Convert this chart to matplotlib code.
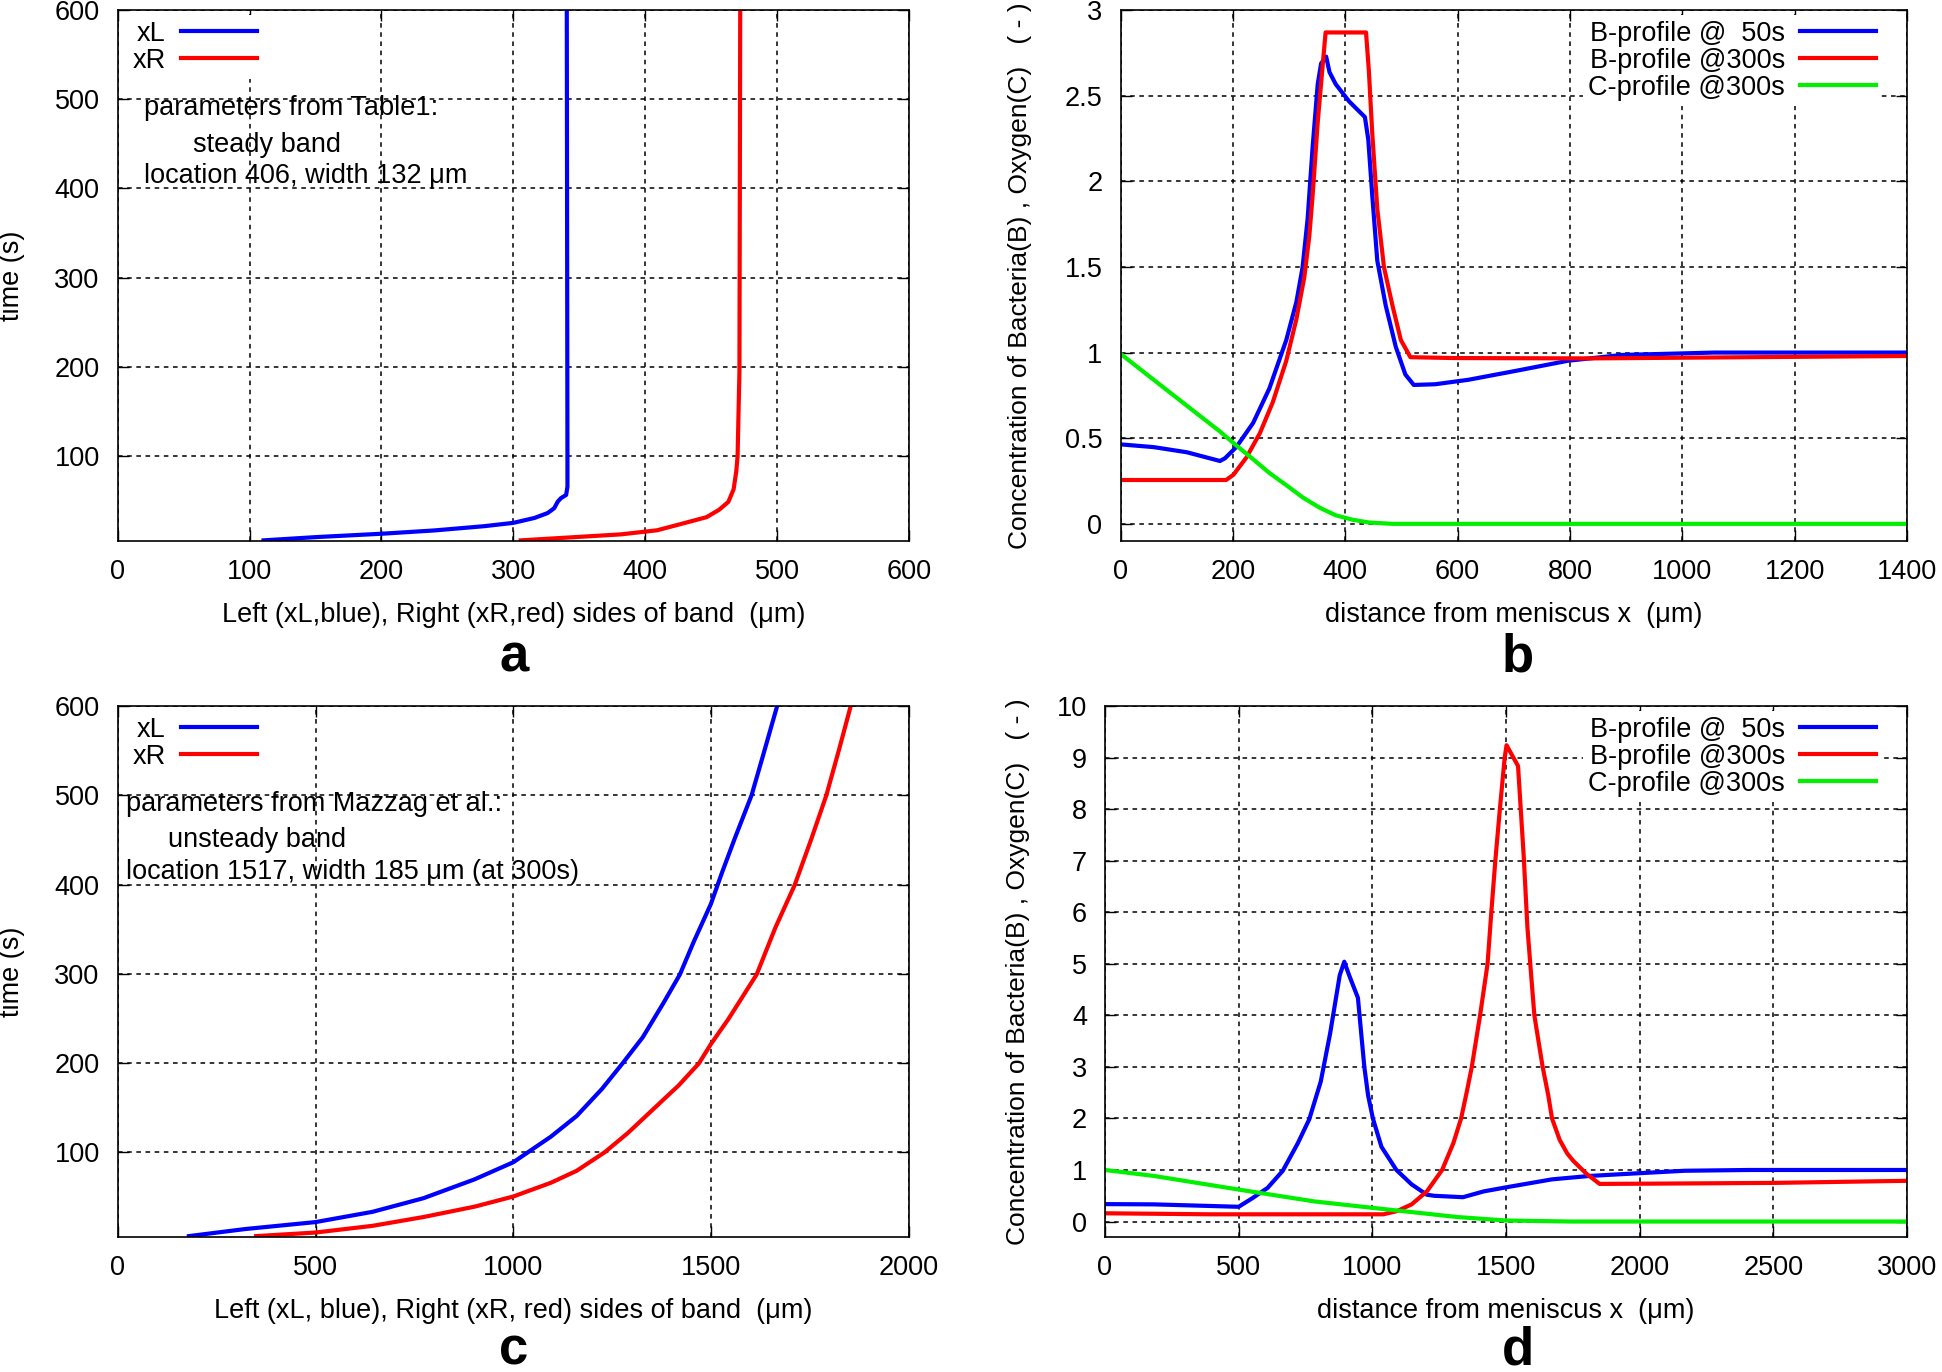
import numpy as np
import matplotlib
matplotlib.use("Agg")
from matplotlib import pyplot as plt
from matplotlib.ticker import FormatStrFormatter

plt.rcParams['font.family'] = ['Liberation Sans', 'DejaVu Sans']
plt.rcParams['font.size'] = 19.5

# panel a: band sides, parameters from Table1
a_xL = [110.6, 151, 200, 240, 278, 300, 316, 326, 331, 333.7, 336, 340, 341, 341, 340.5]
a_tL = [5.7, 9.4, 13.1, 16.8, 21.6, 25.3, 30.8, 36.3, 41.8, 49.2, 52.9, 56.6, 65.8, 100, 600]
a_xR = [305.6, 381.5, 409, 428, 446.5, 456, 463, 467, 469, 470, 471.4, 472]
a_tR = [5.7, 12.4, 17, 24.4, 31.7, 40, 48.8, 63, 83, 100, 195, 600]

# panel b: profiles, Table1 parameters
b_xB50 = [0, 59, 118, 177, 186, 206, 236, 265, 295, 313, 324, 333, 342, 351, 357, 366, 372,
          383, 407, 435, 441, 448, 457, 472, 490, 507, 522, 560, 619, 708, 796, 892, 1057, 1400]
b_B50 = [0.464, 0.448, 0.418, 0.367, 0.383, 0.448, 0.589, 0.791, 1.073, 1.295, 1.497, 1.78,
         2.203, 2.567, 2.688, 2.728, 2.637, 2.567, 2.466, 2.375, 2.244, 1.921, 1.537, 1.275,
         1.033, 0.872, 0.811, 0.815, 0.841, 0.896, 0.952, 0.986, 1.0, 1.0]
b_xB300 = [0, 188, 201, 224, 248, 271, 295, 313, 327, 336, 342, 351, 359, 365, 437, 442, 448,
           457, 469, 484, 499, 516, 594, 838, 1400]
b_B300 = [0.256, 0.256, 0.287, 0.387, 0.529, 0.71, 0.952, 1.195, 1.437, 1.679, 1.921, 2.345,
          2.647, 2.869, 2.869, 2.647, 2.284, 1.84, 1.497, 1.275, 1.073, 0.973, 0.968, 0.966,
          0.98]
b_xC300 = [0, 59, 118, 177, 206, 236, 265, 295, 324, 354, 383, 413, 442, 484, 1400]
b_C300 = [0.993, 0.841, 0.69, 0.539, 0.458, 0.377, 0.297, 0.226, 0.155, 0.095, 0.05, 0.024,
          0.008, 0, 0]

# panel c: band sides, parameters from Mazzag et al.
c_xL = [180, 322, 500, 644, 773, 902, 1000, 1037, 1095, 1160, 1224, 1276, 1327, 1379, 1421,
        1456, 1499, 1527, 1559, 1602, 1630, 1666]
c_tL = [6, 13.9, 21.7, 33.2, 48.5, 69.6, 88.8, 100, 117.5, 140.6, 171, 199.6, 228.8, 267,
        299.3, 336, 378, 413, 451, 500, 543, 599]
c_xR = [350, 500, 644, 773, 902, 1000, 1095, 1160, 1231, 1289, 1353, 1418, 1469, 1499, 1544,
        1615, 1662, 1711, 1753, 1791, 1823, 1852]
c_tR = [6, 10, 17.5, 27.4, 39, 50.4, 65.8, 79.2, 100, 121.4, 148, 175, 199.6, 221, 249.6,
        299.3, 351.5, 399.4, 451, 500, 551, 599]

# panel d: profiles, Mazzag parameters
d_xB50 = [0, 182, 500, 551, 608, 665, 721, 764, 807, 842, 878, 895, 913, 946, 956, 970, 984,
          1002, 1034, 1090, 1147, 1204, 1232, 1339, 1417, 1502, 1672, 1814, 2000, 2169, 2408,
          3000]
d_B50 = [0.338, 0.333, 0.286, 0.452, 0.652, 0.985, 1.517, 1.983, 2.715, 3.646, 4.777, 5.04,
         4.78, 4.34, 3.78, 3.0, 2.45, 2.0, 1.45, 1.0, 0.72, 0.52, 0.499, 0.472, 0.585, 0.665,
         0.818, 0.885, 0.938, 0.985, 1.0, 1.0]
d_xB300 = [0, 395, 1041, 1091, 1147, 1204, 1261, 1303, 1332, 1353, 1372, 1403, 1431, 1445,
           1460, 1477, 1495, 1502, 1545, 1566, 1580, 1594, 1606, 1623, 1637, 1658, 1672, 1701,
           1729, 1751, 1800, 1850, 2049, 2510, 3000]
d_B300 = [0.16, 0.14, 0.14, 0.2, 0.333, 0.585, 1.0, 1.52, 2.0, 2.51, 3.0, 4.0, 5.0, 6.0, 7.0,
          8.0, 9.0, 9.24, 8.836, 7.1, 5.71, 4.78, 4.0, 3.45, 3.0, 2.45, 2.0, 1.58, 1.32, 1.18,
          0.93, 0.73, 0.735, 0.75, 0.79]
d_xC300 = [0, 182, 500, 783, 1000, 1318, 1500, 1743, 3000]
d_C300 = [1.0, 0.885, 0.62, 0.39, 0.266, 0.087, 0.02, 0, 0]

BLUE = '#0000ff'
RED = '#ff0000'
GREEN = '#00f000'
LW = 3.0

fig = plt.figure(figsize=(19.42, 13.72), dpi=100)
axA = fig.add_axes([0.0606, 0.6057, 0.4075, 0.387])
axB = fig.add_axes([0.577, 0.6057, 0.405, 0.387])
axC = fig.add_axes([0.0606, 0.0984, 0.4075, 0.387])
axD = fig.add_axes([0.569, 0.0984, 0.413, 0.387])


def style(ax):
    ax.grid(True, color='black', linestyle=(0, (3, 3)), linewidth=1.1)
    ax.set_axisbelow(True)
    ax.tick_params(direction='in', length=8, width=1, top=True, right=True, pad=13)
    for s in ax.spines.values():
        s.set_linewidth(1.2)


def legend(ax, loc, anchor):
    lg = ax.legend(loc=loc, bbox_to_anchor=anchor, markerfirst=False, frameon=True,
                   fancybox=False, framealpha=1, edgecolor='none', handlelength=2.8,
                   handletextpad=0.55, labelspacing=0.04, borderpad=0.2, borderaxespad=0)
    return lg


# a
axA.plot(a_xL, a_tL, color=BLUE, lw=LW, label='xL')
axA.plot(a_xR, a_tR, color=RED, lw=LW, label='xR')
axA.set_xlim(0, 600)
axA.set_ylim(5, 600)
axA.set_xticks(range(0, 601, 100))
axA.set_yticks(range(100, 601, 100))
style(axA)
legend(axA, 'upper left', (0.012, 0.99))
axA.text(20, 490, 'parameters from Table1:', va='center')
axA.text(57, 449, 'steady band', va='center')
axA.text(20, 414, 'location 406, width 132 \u03bcm', va='center')
axA.set_xlabel('Left (xL,blue), Right (xR,red) sides of band  (\u03bcm)', labelpad=12)
axA.set_ylabel('time (s)')
axA.yaxis.set_label_coords(-0.117, 0.5)

# b
axB.plot(b_xB50, b_B50, color=BLUE, lw=LW, label='B-profile @  50s')
axB.plot(b_xB300, b_B300, color=RED, lw=LW, label='B-profile @300s')
axB.plot(b_xC300, b_C300, color=GREEN, lw=LW, label='C-profile @300s')
axB.set_xlim(0, 1400)
axB.set_ylim(-0.1, 3)
axB.set_xticks(range(0, 1401, 200))
axB.set_yticks(np.arange(0, 3.01, 0.5))
axB.yaxis.set_major_formatter(FormatStrFormatter('%g'))
style(axB)
legend(axB, 'upper right', (0.967, 0.99))
axB.set_xlabel('distance from meniscus x  (\u03bcm)', labelpad=12)
axB.set_ylabel('Concentration of Bacteria(B) , Oxygen(C)   ( - )', fontsize=19)
axB.yaxis.set_label_coords(-0.112, 0.5)

# c
axC.plot(c_xL, c_tL, color=BLUE, lw=LW, label='xL')
axC.plot(c_xR, c_tR, color=RED, lw=LW, label='xR')
axC.set_xlim(0, 2000)
axC.set_ylim(5, 600)
axC.set_xticks(range(0, 2001, 500))
axC.set_yticks(range(100, 601, 100))
style(axC)
legend(axC, 'upper left', (0.012, 0.99))
axC.text(22, 490, 'parameters from Mazzag et al.:', va='center')
axC.text(128, 450, 'unsteady band', va='center')
axC.text(22, 414, 'location 1517, width 185 \u03bcm (at 300s)', va='center')
axC.set_xlabel('Left (xL, blue), Right (xR, red) sides of band  (\u03bcm)', labelpad=12)
axC.set_ylabel('time (s)')
axC.yaxis.set_label_coords(-0.117, 0.5)

# d
axD.plot(d_xB50, d_B50, color=BLUE, lw=LW, label='B-profile @  50s')
axD.plot(d_xB300, d_B300, color=RED, lw=LW, label='B-profile @300s')
axD.plot(d_xC300, d_C300, color=GREEN, lw=LW, label='C-profile @300s')
axD.set_xlim(0, 3000)
axD.set_ylim(-0.3, 10)
axD.set_xticks(range(0, 3001, 500))
axD.set_yticks(range(0, 11, 1))
style(axD)
legend(axD, 'upper right', (0.968, 0.99))
axD.set_xlabel('distance from meniscus x  (\u03bcm)', labelpad=12)
axD.set_ylabel('Concentration of Bacteria(B) , Oxygen(C)   ( - )', fontsize=19)
axD.yaxis.set_label_coords(-0.0935, 0.5)

for lab, x, y in [('a', 0.2647, 0.521), ('b', 0.7817, 0.521),
                  ('c', 0.2647, 0.016), ('d', 0.7817, 0.016)]:
    fig.text(x, y, lab, ha='center', va='center', fontsize=38, fontweight='bold')

fig.savefig('out.png', dpi=100)
